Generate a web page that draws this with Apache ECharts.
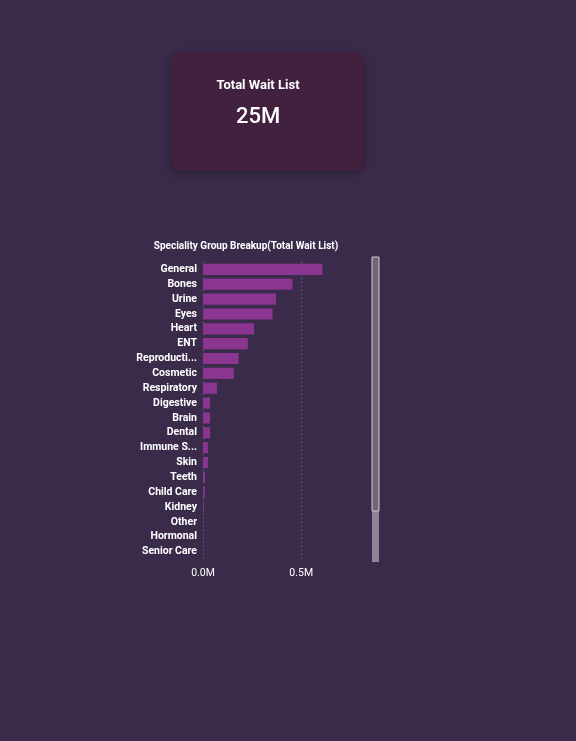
<!DOCTYPE html>
<html style="height: 100%; width: 100%; overflow: hidden">
<head>
    <meta charset="UTF-8">
    <title>Wait List</title>
    <script type="text/javascript" src="https://cdn.jsdelivr.net/npm/echarts@6/dist/echarts.min.js"></script>
</head>
<body style="height: 100%; width: 100%; margin: 0; background: #3b2b4b">
<div id="container" style="height: 100%; width: 100%"></div>
</body>
</html>

<script type="text/javascript">

    var specialities = ['General', 'Bones', 'Urine', 'Eyes', 'Heart', 'ENT', 'Reproductive', 'Cosmetic',
        'Respiratory', 'Digestive', 'Brain', 'Dental', 'Immune System', 'Skin', 'Teeth', 'Child Care',
        'Kidney', 'Other', 'Hormonal', 'Senior Care'];
    // wait list per speciality, millions
    var waitList = [0.608, 0.455, 0.372, 0.354, 0.260, 0.228, 0.181, 0.157,
        0.071, 0.036, 0.036, 0.036, 0.025, 0.025, 0.010, 0.009,
        0.004, 0.001, 0.001, 0.001];
    var totalLabel = '25M';
    var xTicks = [0, 0.5];

    var dom = document.getElementById("container");
    var myChart = echarts.init(dom);

    var font = 'Roboto';

    var option = {
        backgroundColor: '#3b2b4b',
        textStyle: {fontFamily: font},
        title: {
            text: 'Speciality Group Breakup(Total Wait List)',
            left: 241,
            textAlign: 'center',
            top: 236,
            textStyle: {color: '#ffffff', fontSize: 10, fontWeight: 'bold', fontFamily: font}
        },
        graphic: [
            {
                type: 'rect',
                shape: {x: 171, y: 52, width: 192, height: 119, r: 10},
                style: {fill: '#42213f', shadowBlur: 8, shadowColor: 'rgba(0,0,0,0.35)', shadowOffsetY: 2}
            },
            {
                type: 'text',
                x: 258, y: 86,
                style: {text: 'Total Wait List', fill: '#ffffff', font: 'bold 13px Roboto', align: 'center', verticalAlign: 'middle'}
            },
            {
                type: 'text',
                x: 258, y: 117,
                style: {text: totalLabel, fill: '#ffffff', font: '500 22px Roboto', align: 'center', verticalAlign: 'middle'}
            },
            // scroll bar
            {
                type: 'rect',
                shape: {x: 372, y: 257, width: 7, height: 305},
                style: {fill: '#8d8699'}
            },
            {
                type: 'rect',
                shape: {x: 372, y: 257, width: 7, height: 254},
                style: {fill: '#6e6679', stroke: '#cfc8d8', lineWidth: 1}
            }
        ],
        grid: {left: 203, right: 206, top: 262, bottom: 182},
        xAxis: {
            type: 'value',
            min: 0,
            max: 0.85,
            interval: 0.5,
            axisLine: {show: false},
            axisTick: {show: false},
            axisLabel: {
                color: '#ffffff',
                fontSize: 10.5,
                margin: 9,
                showMaxLabel: false,
                formatter: function (v) {
                    return xTicks.indexOf(v) >= 0 ? v.toFixed(1) + 'M' : '';
                }
            },
            splitLine: {
                showMaxLine: false,
                lineStyle: {color: '#7a6a8c', type: [1, 3], width: 1}
            }
        },
        yAxis: {
            type: 'category',
            inverse: true,
            data: specialities,
            axisLine: {show: false},
            axisTick: {show: false},
            axisLabel: {
                color: '#ffffff',
                fontSize: 10.5,
                fontWeight: 'bold',
                margin: 6,
                width: 63,
                overflow: 'truncate',
                ellipsis: '...'
            }
        },
        series: [
            {
                name: 'Total Wait List',
                type: 'bar',
                data: waitList,
                barCategoryGap: '25%',
                itemStyle: {color: '#8a3590'},
                silent: true
            }
        ]
    };

    myChart.setOption(option);

</script>
